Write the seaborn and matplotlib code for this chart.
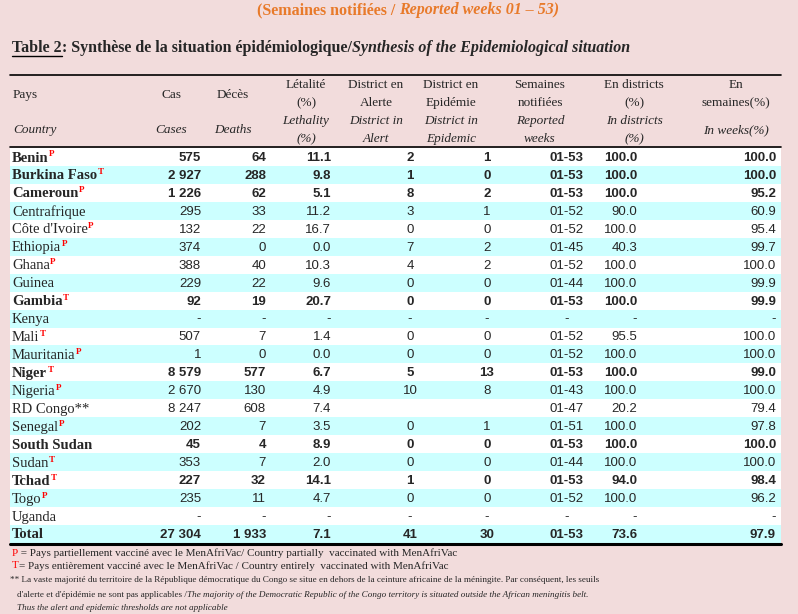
import matplotlib
matplotlib.use("Agg")
import matplotlib.pyplot as plt
import seaborn as sns
from matplotlib import font_manager as fm

sns.set_style("white")

countries = ["Benin","Burkina Faso","Cameroun","Centrafrique","Côte d'Ivoire","Ethiopia","Ghana","Guinea","Gambia","Kenya","Mali","Mauritania","Niger","Nigeria","RD Congo**","Senegal","South Sudan","Sudan","Tchad","Togo","Uganda","Total"]
sup = ["P","T","P","","P","P","P","","T","","T","P","T","P","","P","","T","T","P","",""]
bold = [1,1,1,0,0,0,0,0,1,0,0,0,1,0,0,0,1,0,1,0,0,1]
cases = ["575","2 927","1 226","295","132","374","388","229","92","-","507","1","8 579","2 670","8 247","202","45","353","227","235","-","27 304"]
deaths = ["64","288","62","33","22","0","40","22","19","-","7","0","577","130","608","7","4","7","32","11","-","1 933"]
leth = ["11.1","9.8","5.1","11.2","16.7","0.0","10.3","9.6","20.7","-","1.4","0.0","6.7","4.9","7.4","3.5","8.9","2.0","14.1","4.7","-","7.1"]
alert = ["2","1","8","3","0","7","4","0","0","-","0","0","5","10","","0","0","0","1","0","-","41"]
epid = ["1","0","2","1","0","2","2","0","0","-","0","0","13","8","","1","0","0","0","0","-","30"]
weeks = ["01-53","01-53","01-53","01-52","01-52","01-45","01-52","01-44","01-53","-","01-52","01-52","01-53","01-43","01-47","01-51","01-53","01-44","01-53","01-52","-","01-53"]
pdist = ["100.0","100.0","100.0","90.0","100.0","40.3","100.0","100.0","100.0","-","95.5","100.0","100.0","100.0","20.2","100.0","100.0","100.0","94.0","100.0","-","73.6"]
pweeks = ["100.0","100.0","95.2","60.9","95.4","99.7","100.0","99.9","99.9","-","100.0","100.0","99.0","100.0","79.4","97.8","100.0","100.0","98.4","96.2","-","97.9"]

avail = {f.name for f in fm.fontManager.ttflist}
numfont = "Liberation Sans Narrow" if "Liberation Sans Narrow" in avail else "Liberation Sans"
serif = "Liberation Serif"

fig = plt.figure(figsize=(7.98, 6.14), dpi=100, facecolor="#f2dcdc")
ax = fig.add_axes([0, 0, 1, 1])
ax.set_xlim(0, 798); ax.set_ylim(614, 0); ax.axis("off")
ax.set_facecolor("#f2dcdc")

ax.text(399, 10, "(Semaines notifiées / ", color="#e87a2a", fontsize=11.5, fontweight="bold",
        family=serif, ha="right", va="center")
ax.text(399, 10, "Reported weeks 01 – 53)", color="#e87a2a", fontsize=11.5, fontweight="bold",
        style="italic", family=serif, ha="left", va="center")
t1 = ax.text(12, 48, "Table 2", fontsize=11.5, fontweight="bold", family=serif, va="center")
fig.canvas.draw()
r = fig.canvas.get_renderer()
x1 = t1.get_window_extent(r).x1
ax.plot([12, x1], [56, 56], color="black", lw=1)
t2 = ax.text(x1, 48, ": Synthèse de la situation épidémiologique/", fontsize=11.5, fontweight="bold", family=serif, va="center")
x2 = t2.get_window_extent(r).x1
ax.text(x2, 48, "Synthesis of the Epidemiological situation", fontsize=11.5, fontweight="bold",
        style="italic", family=serif, va="center")

ax.plot([10, 781], [75, 75], color="black", lw=1.2)
hfs = 9.5
ax.text(13, 95, "Pays", fontsize=hfs, family=serif, va="center")
ax.text(13, 130, "Country", fontsize=hfs, family=serif, style="italic", va="center")
heads = [(171, ["Cas"], ["Cases"]), (233, ["Décès"], ["Deaths"]),
         (306, ["Létalité", "(%)"], ["Lethality", "(%)"]),
         (376, ["District en", "Alerte"], ["District in", "Alert"]),
         (451, ["District en", "Epidémie"], ["District in", "Epidemic"]),
         (540, ["Semaines", "notifiées"], ["Reported", "weeks"]),
         (634, ["En districts", "(%)"], ["In districts", "(%)"]),
         (736, ["En", "semaines(%)"], ["In weeks(%)"])]
for x, fr, en in heads:
    ys = [95] if len(fr) == 1 else [85, 103]
    for y, s in zip(ys, fr):
        ax.text(x, y, s, fontsize=hfs, family=serif, ha="center", va="center")
    ys = [130] if len(en) == 1 else [121, 139]
    for y, s in zip(ys, en):
        ax.text(x, y, s, fontsize=hfs, family=serif, style="italic", ha="center", va="center")
ax.plot([10, 781], [147, 147], color="black", lw=1.2)

y0, dy = 157.0, 17.95
cols = [(cases, 201, "right"), (deaths, 266, "right"), (leth, 331, "right"),
        (alert, 410, "center"), (epid, 487, "center"), (weeks, 567, "center"),
        (pdist, 637, "right"), (pweeks, 776, "right")]
for i, name in enumerate(countries):
    y = y0 + i * dy
    col = "white" if i % 2 == 0 else "#ccffff"
    ax.add_patch(plt.Rectangle((10, y - dy / 2), 771, dy, color=col, lw=0, zorder=0))
    w = "bold" if bold[i] else "normal"
    t = ax.text(12, y + 1, name, fontsize=10.5, family=serif, fontweight=w, va="center")
    if sup[i]:
        xe = t.get_window_extent(r).x1
        ax.text(xe + 0.5, y - 2.5, sup[i], fontsize=6.5, color="red", fontweight="bold",
                family=serif, va="center")
    for vals, x, ha in cols:
        ax.text(x, y + 1, vals[i], fontsize=9.5, family=numfont, fontweight=w, ha=ha, va="center")
ax.plot([10, 781], [544, 544], color="black", lw=2.2)

ffs = 8
t = ax.text(12, 553, "P", color="red", fontsize=ffs, family=serif, va="center")
ax.text(t.get_window_extent(r).x1, 553, " = Pays partiellement vacciné avec le MenAfriVac/ Country partially  vaccinated with MenAfriVac",
        fontsize=ffs, family=serif, va="center")
t = ax.text(12, 566, "T", color="red", fontsize=ffs, family=serif, va="center")
ax.text(t.get_window_extent(r).x1, 566, "= Pays entièrement vacciné avec le MenAfriVac / Country entirely  vaccinated with MenAfriVac",
        fontsize=ffs, family=serif, va="center")
ax.text(10, 580, "** La vaste majorité du territoire de la République démocratique du Congo se situe en dehors de la ceinture africaine de la méningite. Par conséquent, les seuils",
        fontsize=6.6, family=serif, va="center")
t = ax.text(17, 595, "d'alerte et d'épidémie ne sont pas applicables /", fontsize=6.6, family=serif, va="center")
ax.text(t.get_window_extent(r).x1, 595, "The majority of the Democratic Republic of the Congo territory is situated outside the African meningitis belt.",
        fontsize=6.6, family=serif, style="italic", va="center")
ax.text(17, 608, "Thus the alert and epidemic thresholds are not applicable", fontsize=6.6, family=serif, style="italic", va="center")

fig.savefig("out.png", dpi=100, facecolor=fig.get_facecolor())
